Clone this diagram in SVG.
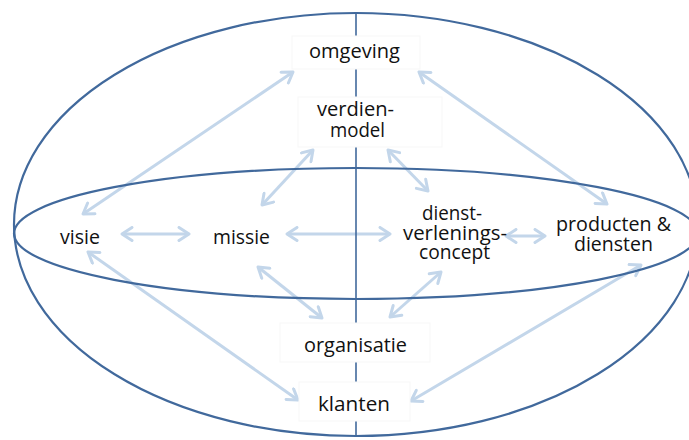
<svg xmlns="http://www.w3.org/2000/svg" width="689" height="440" viewBox="0 0 689 440">
  <defs>
    <marker id="head" viewBox="-12 -8 14 16" refX="0" refY="0" markerWidth="14" markerHeight="16" markerUnits="userSpaceOnUse" orient="auto-start-reverse">
      <path d="M-10,-6.5 L0,0 L-10,6.5" fill="none" stroke="#c3d6ea" stroke-width="3" stroke-linecap="round" stroke-linejoin="round"/>
    </marker>
    <style>
      .frame { fill: none; stroke: #41699c; stroke-width: 2.2; }
      .axis { fill: none; stroke: #41699c; stroke-width: 1.6; }
      .link { fill: none; stroke: #c3d6ea; stroke-width: 3; marker-start: url(#head); marker-end: url(#head); }
      .box { fill: #ffffff; stroke: #f7f7f7; stroke-width: 1; }
      .label { font-family: "Open Sans", Lato, "Liberation Sans", sans-serif; font-size: 20.5px; fill: #111111; }
    </style>
  </defs>

  <rect x="0" y="0" width="689" height="440" fill="#ffffff"/>

  <!-- two-way relations between the elements -->
  <g id="connectors">
    <line class="link" x1="293" y1="72" x2="83" y2="214"/>
    <line class="link" x1="419" y1="72" x2="607" y2="204"/>
    <line class="link" x1="313" y1="150" x2="262" y2="205"/>
    <line class="link" x1="388" y1="150" x2="428" y2="191"/>
    <line class="link" x1="122" y1="234" x2="189" y2="234"/>
    <line class="link" x1="287" y1="234" x2="390" y2="234"/>
    <line class="link" x1="506" y1="236" x2="545" y2="236"/>
    <line class="link" x1="258" y1="267" x2="322" y2="318"/>
    <line class="link" x1="441" y1="272" x2="390" y2="317"/>
    <line class="link" x1="88" y1="252" x2="298" y2="400"/>
    <line class="link" x1="641" y1="265" x2="411" y2="401"/>
  </g>

  <!-- outer and inner ellipse with the vertical axis -->
  <g id="frame">
    <ellipse class="frame" cx="356" cy="224.5" rx="342" ry="211.5"/>
    <ellipse class="frame" cx="356" cy="233.5" rx="342" ry="65.5"/>
    <line class="axis" x1="356" y1="13" x2="356" y2="436"/>
  </g>

  <g id="omgeving">
    <rect class="box" x="292" y="36" width="128" height="33"/>
    <text class="label" x="309" y="58" textLength="91" lengthAdjust="spacingAndGlyphs">omgeving</text>
  </g>

  <g id="verdienmodel">
    <rect class="box" x="298" y="97" width="144" height="50"/>
    <text class="label" x="317" y="116" textLength="77" lengthAdjust="spacingAndGlyphs">verdien-</text>
    <text class="label" x="330" y="137" textLength="55" lengthAdjust="spacingAndGlyphs">model</text>
  </g>

  <g id="visie">
    <text class="label" x="60" y="244" textLength="40" lengthAdjust="spacingAndGlyphs">visie</text>
  </g>

  <g id="missie">
    <text class="label" x="213" y="244" textLength="57" lengthAdjust="spacingAndGlyphs">missie</text>
  </g>

  <g id="dienstverleningsconcept">
    <text class="label" x="422" y="220" textLength="60" lengthAdjust="spacingAndGlyphs">dienst-</text>
    <text class="label" x="403" y="240" textLength="104" lengthAdjust="spacingAndGlyphs">verlenings-</text>
    <text class="label" x="419" y="259" textLength="71" lengthAdjust="spacingAndGlyphs">concept</text>
  </g>

  <g id="producten-diensten">
    <text class="label" x="556" y="231" textLength="115" lengthAdjust="spacingAndGlyphs">producten &amp;</text>
    <text class="label" x="574" y="251" textLength="79" lengthAdjust="spacingAndGlyphs">diensten</text>
  </g>

  <g id="organisatie">
    <rect class="box" x="280" y="323" width="150" height="39"/>
    <text class="label" x="304" y="352" textLength="103" lengthAdjust="spacingAndGlyphs">organisatie</text>
  </g>

  <g id="klanten">
    <rect class="box" x="299" y="382" width="111" height="39"/>
    <text class="label" x="318" y="411" textLength="72" lengthAdjust="spacingAndGlyphs">klanten</text>
  </g>
</svg>
